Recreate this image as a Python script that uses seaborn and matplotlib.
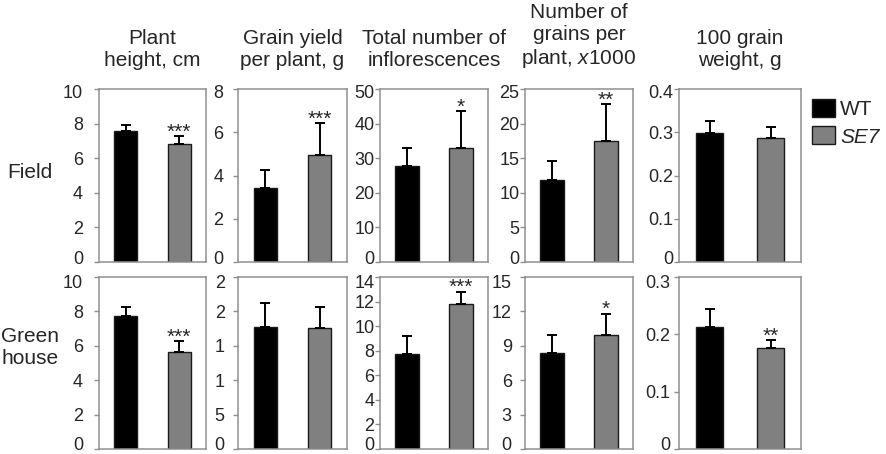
import pandas as pd
import seaborn as sns
import matplotlib.pyplot as plt
from matplotlib.patches import Patch
from matplotlib.transforms import ScaledTranslation

# Chart data
traits = ['Plant\nheight, cm', 'Grain yield\nper plant, g', 'Total number of\ninflorescences',
          'Number of\ngrains per\nplant, $\\mathit{x}$1000', '100 grain\nweight, g']
genotypes = ['WT', 'SE7']
conditions = ['Field', 'Green\nhouse']

field_wt = [7.57, 3.42, 27.7, 11.85, 0.298]
field_wt_err = [0.33, 0.83, 5.3, 2.75, 0.028]
field_se7 = [6.82, 4.95, 33.0, 17.5, 0.287]
field_se7_err = [0.46, 1.47, 10.6, 5.3, 0.025]
field_stars = ['***', '***', '*', '**', '']

gh_wt = [7.71, 1.78, 7.77, 8.35, 0.213]
gh_wt_err = [0.52, 0.34, 1.43, 1.55, 0.031]
gh_se7 = [5.62, 1.76, 11.8, 9.9, 0.176]
gh_se7_err = [0.64, 0.30, 1.0, 1.9, 0.014]
gh_stars = ['***', '', '***', '*', '**']

field_ymax = [10, 8, 50, 25, 0.4]
field_step = [2, 2, 10, 5, 0.1]
gh_ymax = [10, 2.5, 14, 15, 0.3]
gh_step = [2, 0.5, 2, 3, 0.1]
# the greenhouse grain yield axis shows clipped labels in the original
gh_yield_labels = ['0', '5', '1', '1', '2', '2']

sns.set_style('white')
plt.rcParams['font.family'] = ['Liberation Sans', 'DejaVu Sans']
plt.rcParams['mathtext.fontset'] = 'custom'
plt.rcParams['mathtext.rm'] = 'Liberation Sans'
plt.rcParams['mathtext.it'] = 'Liberation Sans:italic'

W, H = 886, 454
fig = plt.figure(figsize=(W / 100, H / 100), dpi=100)

cols_px = [(99, 206), (238, 347), (380, 488), (525, 633), (679, 801)]
rows_px = [(89, 262), (277, 449)]
tick_pads = [[8, 7, 0.5, 0.5, 0.5], [8, 6, 0.5, 6, 3]]
palette = {'WT': 'black', 'SE7': '#808080'}
frame = '#8f8f8f'


def shift_label(lab, dy_px):
    lab.set_transform(lab.get_transform() + ScaledTranslation(0, dy_px / 100, fig.dpi_scale_trans))


rows = [
    (field_wt, field_wt_err, field_se7, field_se7_err, field_stars, field_ymax, field_step),
    (gh_wt, gh_wt_err, gh_se7, gh_se7_err, gh_stars, gh_ymax, gh_step),
]

for r, (wt, wt_e, se, se_e, stars, ymax, step) in enumerate(rows):
    top, bot = rows_px[r]
    for c in range(5):
        left, right = cols_px[c]
        ax = fig.add_axes([left / W, 1 - bot / H, (right - left) / W, (bot - top) / H])
        df = pd.DataFrame({'genotype': genotypes, 'value': [wt[c], se[c]]})
        sns.barplot(data=df, x='genotype', y='value', hue='genotype', palette=palette,
                    width=0.43, edgecolor='#1a1a1a', linewidth=1, errorbar=None,
                    legend=False, ax=ax)
        ax.errorbar([0, 1], [wt[c], se[c]], yerr=[[0, 0], [wt_e[c], se_e[c]]], fmt='none',
                    ecolor='black', elinewidth=1.4, capsize=3.3, capthick=1.4, zorder=5)
        if stars[c]:
            ax.annotate(stars[c], (1, se[c] + se_e[c]), xytext=(0, -1), textcoords='offset points',
                        ha='center', va='baseline', fontsize=15)
        ax.set_xlim(-0.5, 1.5)
        ax.set_ylim(0, ymax[c])
        ticks = [i * step[c] for i in range(int(round(ymax[c] / step[c])) + 1)]
        ax.set_yticks(ticks)
        if r == 1 and c == 1:
            ax.set_yticklabels(gh_yield_labels)
        else:
            ax.set_yticklabels(['%g' % t for t in ticks])
        ax.set_xticks([])
        ax.set_xlabel('')
        ax.set_ylabel('')
        ax.tick_params(axis='y', left=True, length=3.5, width=1, color=frame, labelsize=13,
                       pad=tick_pads[r][c])
        # end labels sit a little inside the axis range in the original
        labels = ax.get_yticklabels()
        shift_label(labels[0], 5)
        shift_label(labels[-1], -5 if r == 1 else -2)
        for sp in ax.spines.values():
            sp.set_color(frame)
            sp.set_linewidth(1.1)
        if r == 0:
            fig.text((left + right) / 2 / W, 1 - 70 / H, traits[c], ha='center', va='bottom',
                     fontsize=15, linespacing=1.18)

# Row labels
fig.text(30 / W, 1 - 173 / H, conditions[0], ha='center', va='center', fontsize=15)
fig.text(30 / W, 1 - 347 / H, conditions[1], ha='center', va='center', fontsize=15,
         linespacing=1.2)

# Legend
handles = [Patch(facecolor=palette[g], edgecolor='#1a1a1a', linewidth=1) for g in genotypes]
leg = fig.legend(handles, genotypes, loc='upper left', bbox_to_anchor=(812 / W, 1 - 99 / H),
                 frameon=False, fontsize=15, handlelength=1.1, handleheight=0.95,
                 handletextpad=0.25, labelspacing=0.35, borderaxespad=0, borderpad=0)
leg.get_texts()[1].set_fontstyle('italic')

fig.savefig('out.png', dpi=100)
